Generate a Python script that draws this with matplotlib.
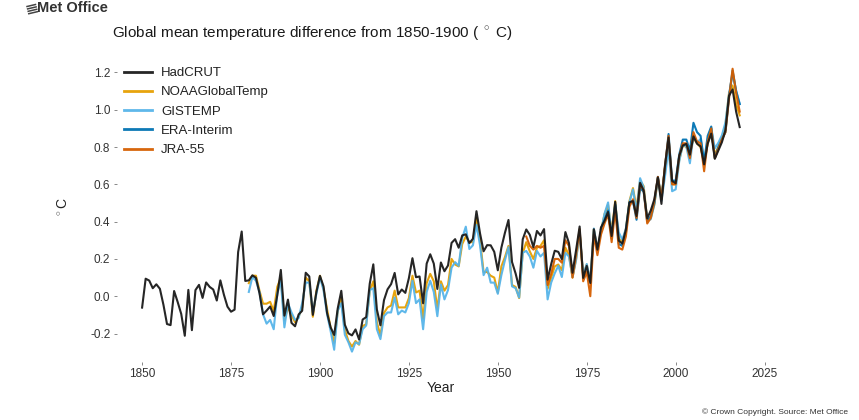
import matplotlib
matplotlib.use("Agg")
import matplotlib.pyplot as plt
from matplotlib.lines import Line2D

plt.rcParams['font.family'] = ['Liberation Sans', 'DejaVu Sans']
plt.rcParams['mathtext.fontset'] = 'custom'
plt.rcParams['mathtext.rm'] = 'Liberation Sans'

# ---------------- data (difference from 1850-1900, deg C) ----------------
hadcrut_start = 1850
hadcrut = [
    -0.061, 0.094, 0.084, 0.043, 0.064, 0.040, -0.046, -0.149, -0.155, 0.028,
    -0.031, -0.095, -0.212, 0.034, -0.182, 0.033, 0.061, -0.009, 0.074, 0.050,
    0.036, -0.023, 0.085, 0.008, -0.056, -0.083, -0.072, 0.237, 0.347, 0.082,
    0.085, 0.112, 0.099, 0.016, -0.097, -0.077, -0.055, -0.106, 0.005, 0.141,
    -0.104, -0.018, -0.143, -0.161, -0.098, -0.078, 0.126, 0.106, -0.100, 0.023,
    0.109, 0.053, -0.090, -0.167, -0.208, -0.065, 0.029, -0.153, -0.199, -0.210,
    -0.178, -0.232, -0.125, -0.112, 0.068, 0.171, -0.071, -0.156, -0.021, 0.037,
    0.065, 0.125, 0.010, 0.036, 0.018, 0.097, 0.204, 0.102, 0.106, -0.038,
    0.175, 0.225, 0.175, 0.039, 0.181, 0.134, 0.165, 0.286, 0.306, 0.260,
    0.326, 0.332, 0.285, 0.308, 0.456, 0.337, 0.241, 0.274, 0.273, 0.238,
    0.139, 0.260, 0.340, 0.409, 0.183, 0.122, 0.045, 0.305, 0.358, 0.329,
    0.263, 0.350, 0.326, 0.360, 0.089, 0.172, 0.244, 0.238, 0.199, 0.344,
    0.285, 0.126, 0.247, 0.374, 0.098, 0.163, 0.071, 0.359, 0.250, 0.369,
    0.404, 0.452, 0.323, 0.506, 0.298, 0.282, 0.357, 0.504, 0.510, 0.430,
    0.608, 0.566, 0.417, 0.460, 0.520, 0.637, 0.495, 0.702, 0.851, 0.618,
    0.606, 0.753, 0.808, 0.817, 0.759, 0.857, 0.818, 0.803, 0.707, 0.818,
    0.872, 0.737, 0.782, 0.826, 0.891, 1.075, 1.109, 0.989, 0.907,
]

noaa_start = 1880
noaa = [
    0.07, 0.11, 0.11, 0.03, -0.04, -0.04, -0.03, -0.08, 0.05, 0.10,
    -0.13, -0.06, -0.10, -0.14, -0.11, -0.06, 0.10, 0.08, -0.11, 0.03,
    0.11, 0.04, -0.07, -0.17, -0.25, -0.08, -0.01, -0.18, -0.24, -0.27,
    -0.24, -0.26, -0.16, -0.15, 0.03, 0.08, -0.14, -0.21, -0.09, -0.06,
    -0.05, 0.03, -0.06, -0.06, -0.06, -0.01, 0.11, 0.02, 0.03, -0.12,
    0.07, 0.12, 0.08, -0.07, 0.08, 0.03, 0.06, 0.20, 0.17, 0.16,
    0.28, 0.32, 0.29, 0.29, 0.42, 0.30, 0.13, 0.13, 0.11, 0.10,
    0.02, 0.16, 0.21, 0.27, 0.06, 0.05, -0.01, 0.23, 0.29, 0.24,
    0.20, 0.26, 0.27, 0.30, 0.04, 0.10, 0.16, 0.17, 0.14, 0.26,
    0.22, 0.10, 0.20, 0.34, 0.11, 0.17, 0.08, 0.36, 0.25, 0.35,
    0.44, 0.49, 0.34, 0.51, 0.31, 0.29, 0.36, 0.51, 0.58, 0.47,
    0.62, 0.59, 0.41, 0.42, 0.49, 0.63, 0.53, 0.69, 0.81, 0.60,
    0.60, 0.73, 0.81, 0.80, 0.76, 0.85, 0.82, 0.80, 0.72, 0.82,
    0.88, 0.76, 0.80, 0.85, 0.92, 1.09, 1.13, 1.03, 0.97,
]

gistemp_start = 1880
gistemp = [
    0.023, 0.103, 0.083, 0.023, -0.097, -0.147, -0.127, -0.177, 0.013, 0.083,
    -0.167, -0.037, -0.087, -0.127, -0.117, -0.037, 0.073, 0.073, -0.087, 0.013,
    0.103, 0.033, -0.097, -0.187, -0.287, -0.077, -0.037, -0.207, -0.247, -0.297,
    -0.247, -0.257, -0.177, -0.157, 0.033, 0.043, -0.177, -0.230, -0.107, -0.087,
    -0.087, -0.007, -0.097, -0.077, -0.087, -0.037, 0.083, -0.037, -0.017, -0.177,
    0.023, 0.083, 0.023, -0.107, 0.063, -0.017, 0.033, 0.153, 0.183, 0.163,
    0.313, 0.373, 0.253, 0.273, 0.383, 0.273, 0.113, 0.153, 0.073, 0.073,
    0.013, 0.113, 0.193, 0.263, 0.053, 0.043, -0.007, 0.233, 0.243, 0.213,
    0.153, 0.243, 0.213, 0.233, -0.017, 0.073, 0.123, 0.163, 0.103, 0.233,
    0.213, 0.103, 0.193, 0.343, 0.113, 0.173, 0.083, 0.363, 0.253, 0.343,
    0.443, 0.503, 0.323, 0.493, 0.343, 0.303, 0.363, 0.503, 0.573, 0.453,
    0.633, 0.583, 0.403, 0.413, 0.493, 0.633, 0.513, 0.643, 0.793, 0.563,
    0.573, 0.723, 0.813, 0.803, 0.713, 0.863, 0.823, 0.843, 0.723, 0.833,
    0.903, 0.793, 0.823, 0.863, 0.933, 1.083, 1.193, 1.103, 1.033,
]

era_start = 1979
era_interim = [
    0.36, 0.41, 0.46, 0.31, 0.49, 0.28, 0.27, 0.34, 0.50, 0.51,
    0.41, 0.58, 0.56, 0.40, 0.43, 0.50, 0.64, 0.53, 0.69, 0.87,
    0.62, 0.62, 0.76, 0.84, 0.84, 0.78, 0.93, 0.88, 0.86, 0.72,
    0.86, 0.91, 0.74, 0.80, 0.84, 0.88, 1.07, 1.21, 1.10, 1.03,
]

jra_start = 1958
jra55 = [
    0.32, 0.27, 0.25, 0.27, 0.26, 0.27, 0.06, 0.12, 0.20, 0.20,
    0.18, 0.30, 0.27, 0.10, 0.22, 0.36, 0.08, 0.13, 0.00, 0.33,
    0.22, 0.33, 0.39, 0.44, 0.29, 0.46, 0.26, 0.25, 0.32, 0.48,
    0.52, 0.42, 0.60, 0.57, 0.39, 0.42, 0.51, 0.64, 0.52, 0.70,
    0.86, 0.60, 0.60, 0.75, 0.82, 0.82, 0.74, 0.88, 0.83, 0.82,
    0.67, 0.83, 0.90, 0.74, 0.79, 0.84, 0.88, 1.06, 1.22, 1.09, 0.99,
]

series_names = ["HadCRUT", "NOAAGlobalTemp", "GISTEMP", "ERA-Interim", "JRA-55"]
series_values = [hadcrut, noaa, gistemp, era_interim, jra55]
series_starts = [hadcrut_start, noaa_start, gistemp_start, era_start, jra_start]
series_colors = ["#1a1a1a", "#E69F00", "#56B4E9", "#0072B2", "#D55E00"]
series_z = [10, 3, 4, 5, 6]

x_ticks = [1850, 1875, 1900, 1925, 1950, 1975, 2000, 2025]
y_ticks = [-0.2, 0.0, 0.2, 0.4, 0.6, 0.8, 1.0, 1.2]

# ---------------- figure ----------------
W, H = 859, 420
fig = plt.figure(figsize=(W / 100, H / 100), dpi=100)
fig.patch.set_facecolor("white")

ax = fig.add_axes([117.2 / W, (H - 361.5) / H, (764.6 - 117.2) / W, (361.5 - 53.8) / H])
ax.set_xlim(1843, 2025)
ax.set_ylim(-0.35, 1.3)

handles = []
for name, vals, start, col, z in zip(series_names, series_values, series_starts,
                                      series_colors, series_z):
    yrs = list(range(start, start + len(vals)))
    ln, = ax.plot(yrs, vals, color=col, lw=1.5, zorder=z, label=name,
                  solid_joinstyle="round", alpha=0.95)
    handles.append(ln)

for s in ax.spines.values():
    s.set_visible(False)

ax.set_xticks(x_ticks)
ax.set_xticklabels([str(t) for t in x_ticks])
ax.set_yticks(y_ticks)
ax.set_yticklabels([f"{t:.1f}" for t in y_ticks])
ax.tick_params(axis="both", direction="out", length=2.5, width=0.7,
               color="#888888", labelsize=8.5, labelcolor="#333333", pad=2.5)

ax.set_xlabel("Year", fontsize=10, color="#222222")
ax.xaxis.set_label_coords(0.5, -0.063)
ax.set_ylabel(r"$^\circ$C", fontsize=10, color="#222222")
ax.yaxis.set_label_coords(-0.0714, 0.5)

leg = ax.legend(handles=handles, loc="upper left",
                bbox_to_anchor=(124 / W, 1 - 67 / H), bbox_transform=fig.transFigure,
                frameon=False, fontsize=9.5, handlelength=2.15, handletextpad=0.65,
                labelspacing=0.53, borderpad=0, borderaxespad=0)
for t in leg.get_texts():
    t.set_color("#222222")
for l in leg.get_lines():
    l.set_linewidth(2.0)

fig.text(112 / W, 1 - 34 / H,
         r"Global mean temperature difference from 1850-1900 ( $^\circ$ C)",
         fontsize=11, color="#1a1a1a", ha="left", va="center")

# Met Office logo (text + simple mark)
fig.text(37 / W, 1 - 8.5 / H, "Met Office", fontsize=10.5, fontweight="bold",
         color="#333333", ha="left", va="center")
for i in range(4):
    y0 = 4.5 + i * 2.4
    fig.add_artist(Line2D([(27 + i * 0.6) / W, (35.5 + i * 0.6) / W],
                          [1 - (y0 + 2.0) / H, 1 - y0 / H],
                          transform=fig.transFigure, color="#444444", lw=1.1))

fig.text(848 / W, 1 - 412 / H, "\u00a9 Crown Copyright. Source: Met Office",
         fontsize=6, color="#333333", ha="right", va="center")

fig.savefig("out.png", dpi=100, facecolor="white")
